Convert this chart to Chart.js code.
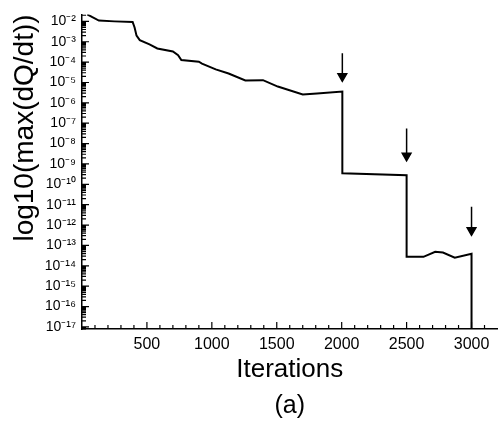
<!DOCTYPE html>
<html>
<head>
<meta charset="utf-8">
<script src="https://cdn.jsdelivr.net/npm/chart.js@4"></script>
<style>
  html, body { margin: 0; padding: 0; background: #fff; }
</style>
</head>
<body>
<canvas id="residualChart" width="504" height="425"></canvas>
<script>
// convergence history: max residual vs. iteration
const iterations = [40, 80, 130, 250, 390, 405, 420, 445, 520, 580, 700, 740, 765, 900, 924, 1030, 1129, 1258, 1394, 1508, 1700, 1810, 2005,
                    2005, 2500,
                    2500, 2630, 2720, 2780, 2871, 3000,
                    3000, 3200];
const residual = [2.2e-2, 1.6e-2, 1.1e-2, 1.0e-2, 9.3e-3, 5.0e-3, 2.0e-3, 1.2e-3, 7.4e-4, 4.7e-4, 3.3e-4, 2.2e-4, 1.26e-4, 1.05e-4, 8.5e-5, 4.4e-5, 2.75e-5, 1.26e-5, 1.3e-5, 6.3e-6, 2.6e-6, 2.9e-6, 3.6e-6,
                  3.5e-10, 2.8e-10,
                  2.75e-14, 2.75e-14, 4.9e-14, 4.5e-14, 2.5e-14, 3.9e-14,
                  7.9e-18, 7.9e-18];

// restart markers
const arrowIter = [2005, 2500, 3000];
const arrowTop = [2.7e-4, 5.5e-8, 7.9e-12];
const arrowHead = [2.0e-5, 2.5e-9, 5.5e-13];

const decadeExponents = [-17, -16, -15, -14, -13, -12, -11, -10, -9, -8, -7, -6, -5, -4, -3, -2];
const iterTicks = [500, 1000, 1500, 2000, 2500, 3000];

const yMin = 7.9e-18;
const yMax = 2.2e-2;

const FONT = '"Liberation Sans", Arial, Helvetica, sans-serif';
const SUP = { '-': '\u207B', '0': '\u2070', '1': '\u00B9', '2': '\u00B2', '3': '\u00B3', '4': '\u2074',
              '5': '\u2075', '6': '\u2076', '7': '\u2077', '8': '\u2078', '9': '\u2079' };
const sup = s => String(s).split('').map(c => SUP[c]).join('');

const historyData = iterations.map((it, i) => ({ x: it, y: residual[i] }));

const arrowSets = arrowIter.map((it, i) => ({
  data: [{ x: it, y: arrowTop[i] }, { x: it, y: arrowHead[i] }],
  borderColor: '#000',
  backgroundColor: '#000',
  borderWidth: 1.5,
  showLine: true,
  pointStyle: 'triangle',
  rotation: 180,
  pointRadius: [0, 5],
  pointHoverRadius: 0
}));

// tick marks drawn inside the axes, majors longer than minors
const inwardTicks = {
  id: 'inwardTicks',
  afterDatasetsDraw(chart) {
    const ctx = chart.ctx;
    const a = chart.chartArea;
    const x = chart.scales.x;
    const y = chart.scales.y;
    ctx.save();
    ctx.strokeStyle = '#000';
    ctx.lineWidth = 1.2;
    ctx.beginPath();
    for (let v = 100; v <= 3100; v += 100) {
      const px = x.getPixelForValue(v);
      const len = v % 500 === 0 ? 7 : 4;
      ctx.moveTo(px, a.bottom);
      ctx.lineTo(px, a.bottom - len);
    }
    const eLo = Math.floor(Math.log10(y.min));
    const eHi = Math.floor(Math.log10(y.max));
    for (let e = eLo; e <= eHi; e++) {
      for (let m = 1; m < 10; m++) {
        const val = m * Math.pow(10, e);
        if (val < y.min || val > y.max) continue;
        const py = y.getPixelForValue(val);
        const len = m === 1 ? 7 : 4;
        ctx.moveTo(a.left, py);
        ctx.lineTo(a.left + len, py);
      }
    }
    ctx.stroke();
    ctx.restore();
  }
};

new Chart(document.getElementById('residualChart'), {
  type: 'scatter',
  data: {
    datasets: [{
      data: historyData,
      showLine: true,
      borderColor: '#000',
      borderWidth: 2,
      pointRadius: 0,
      tension: 0
    }, ...arrowSets]
  },
  options: {
    responsive: false,
    animation: false,
    layout: { padding: { top: 13, right: 1, left: 0 } },
    plugins: {
      legend: { display: false },
      tooltip: { enabled: false },
      title: {
        display: true,
        text: '(a)',
        position: 'bottom',
        fullSize: false,
        color: '#000',
        font: { family: FONT, size: 25, weight: 'normal' },
        padding: { top: 6, bottom: 4 }
      }
    },
    scales: {
      x: {
        type: 'linear',
        min: 0,
        max: 3200,
        afterBuildTicks: s => { s.ticks = iterTicks.map(v => ({ value: v })); },
        afterFit: s => { s.height = 56; },
        grid: { display: false, drawTicks: false },
        border: { display: true, color: '#000', width: 1.5 },
        ticks: {
          color: '#000',
          padding: 6,
          maxRotation: 0,
          font: { family: FONT, size: 16 },
          callback: v => String(v)
        },
        title: {
          display: true,
          text: 'Iterations',
          color: '#000',
          font: { family: FONT, size: 26 },
          padding: { top: 0, bottom: 0 }
        }
      },
      y: {
        type: 'logarithmic',
        min: yMin,
        max: yMax,
        afterBuildTicks: s => { s.ticks = decadeExponents.map(e => ({ value: Math.pow(10, e) })); },
        afterFit: s => { s.width = 82; },
        grid: { display: false, drawTicks: false },
        border: { display: true, color: '#000', width: 1.5 },
        ticks: {
          color: '#000',
          padding: 6,
          font: { family: FONT, size: 14 },
          callback: v => '10' + sup(Math.round(Math.log10(v)))
        },
        title: {
          display: true,
          text: 'log10(max(dQ/dt))',
          align: 'end',
          color: '#000',
          font: { family: FONT, size: 28 },
          padding: { top: 8, bottom: 0 }
        }
      }
    }
  },
  plugins: [inwardTicks]
});
</script>
</body>
</html>
